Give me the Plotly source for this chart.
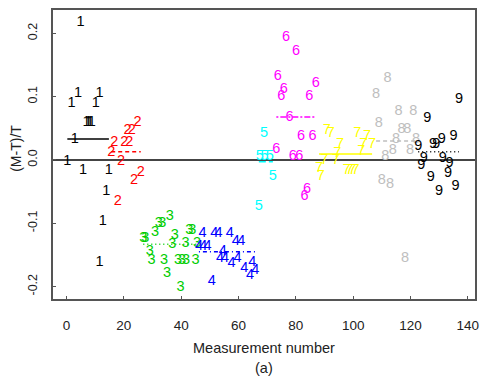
import plotly.graph_objects as go

# ---- data ----
labels = ["1", "2", "3", "4", "5", "6", "7", "8", "9"]
colors = ["#000000", "#FF0000", "#00CD00", "#0000FF", "#00FFFF",
          "#FF00FF", "#FFFF00", "#BEBEBE", "#000000"]
line_dashes = ["solid", "4px,3px", "1px,3px", "1px,3px,4px,3px", "7px,3px",
               "2px,2px,6px,2px", "solid", "4px,3px", "1px,3px"]

x1 = [0.3, 1.8, 2.9, 4.0, 4.9, 5.8, 7.0, 7.6, 8.2, 8.8, 10.2, 11.5, 11.5, 12.7, 13.9, 14.8]
y1 = [-0.003, 0.090, 0.032, 0.105, 0.217, -0.016, 0.059, 0.059, 0.059, 0.059, 0.090, 0.105, -0.161, -0.097, -0.050, -0.016]

x2 = [15.6, 16.7, 17.9, 19.0, 20.2, 21.3, 21.9, 22.8, 23.6, 24.8, 25.9]
y2 = [0.012, 0.028, -0.066, -0.002, 0.027, 0.046, 0.027, 0.046, -0.033, 0.059, -0.019]

x3 = [26.8, 27.5, 29.1, 29.7, 30.9, 32.2, 33.4, 34.0, 35.1, 36.0, 36.9, 37.8, 38.9, 39.8, 40.3, 41.5, 41.7, 42.8, 43.9, 45.0, 45.5]
y3 = [-0.124, -0.124, -0.145, -0.158, -0.115, -0.100, -0.100, -0.158, -0.179, -0.089, -0.133, -0.119, -0.158, -0.202, -0.158, -0.132, -0.158, -0.111, -0.111, -0.158, -0.132]

x4 = [46.2, 47.5, 47.7, 49.2, 50.7, 51.6, 53.0, 53.6, 54.5, 55.3, 57.0, 57.6, 59.1, 59.7, 61.0, 62.0, 64.0, 64.8, 65.9]
y4 = [-0.137, -0.116, -0.137, -0.137, -0.192, -0.116, -0.116, -0.155, -0.145, -0.155, -0.116, -0.163, -0.129, -0.155, -0.129, -0.171, -0.182, -0.161, -0.174]

x5 = [67.1, 67.4, 68.9, 69.1, 70.9, 72.0]
y5 = [-0.074, 0.005, 0.042, 0.005, 0.005, -0.026]

x6 = [73.2, 73.7, 74.9, 75.8, 76.6, 77.8, 78.9, 80.1, 81.2, 81.8, 83.0, 83.9, 84.7, 85.8, 87.0]
y6 = [0.016, 0.132, 0.100, 0.112, 0.194, 0.068, 0.006, 0.171, 0.006, 0.037, -0.057, -0.046, 0.100, 0.037, 0.121]

x7 = [88.1, 88.7, 89.9, 90.8, 92.2, 93.9, 94.5, 95.4, 97.7, 98.7, 99.7, 100.8, 101.4, 102.8, 103.5, 104.8, 106.6]
y7 = [-0.013, -0.026, 0.0, 0.047, 0.042, 0.0, 0.011, 0.024, -0.016, -0.016, -0.016, -0.016, 0.042, 0.013, 0.024, 0.037, 0.024]

x8 = [108.0, 108.9, 110.0, 111.2, 112.0, 112.9, 113.8, 115.0, 115.8, 116.9, 118.1, 118.9, 119.8, 121.0, 121.9]
y8 = [0.103, 0.058, -0.032, 0.005, 0.129, -0.039, 0.015, 0.033, 0.076, 0.048, -0.155, 0.048, 0.015, 0.076, 0.033]

x9 = [122.7, 123.8, 124.6, 125.9, 127.1, 127.9, 129.0, 130.0, 130.9, 131.3, 133.1, 133.6, 135.0, 135.7, 136.9]
y9 = [0.022, -0.008, 0.003, 0.066, -0.027, 0.024, 0.024, -0.050, 0.032, 0.003, -0.021, -0.005, 0.038, -0.041, 0.095]

group_means = [0.033, 0.013, -0.133, -0.145, -0.003, 0.068, 0.0095, 0.030, 0.013]

x_ticks = [0, 20, 40, 60, 80, 100, 120, 140]
y_ticks = [-0.2, -0.1, 0.0, 0.1, 0.2]
y_tick_text = ["-0.2", "-0.1", "0.0", "0.1", "0.2"]

xs = [x1, x2, x3, x4, x5, x6, x7, x8, x9]
ys = [y1, y2, y3, y4, y5, y6, y7, y8, y9]

NARROW = "Liberation Sans Narrow, Arial Narrow, Liberation Sans, Arial, sans-serif"
REG = "Liberation Sans, Arial, sans-serif"

fig = go.Figure()

# group mean lines
for i in range(9):
    fig.add_trace(go.Scatter(
        x=[min(xs[i]), max(xs[i])], y=[group_means[i], group_means[i]],
        mode="lines", line=dict(color=colors[i], width=1.5, dash=line_dashes[i]),
        hoverinfo="skip", showlegend=False))

# digit labels
for i in range(9):
    fig.add_trace(go.Scatter(
        x=xs[i], y=ys[i], mode="text", text=[labels[i]] * len(xs[i]),
        textposition="middle center",
        textfont=dict(family=NARROW, size=14.5, color=colors[i]),
        showlegend=False))

axis_col = "#555555"
fig.update_layout(
    width=481, height=383,
    margin=dict(l=53, r=2, t=10, b=84),
    paper_bgcolor="white", plot_bgcolor="white",
    showlegend=False,
    xaxis=dict(range=[-4.7, 142.5], tickvals=x_ticks, ticks="inside", ticklen=3,
               tickcolor=axis_col, showgrid=False, zeroline=False,
               showline=True, mirror=True, linecolor=axis_col, linewidth=1.5,
               tickfont=dict(family=NARROW, size=13.5, color="#222222"),
               ticklabelstandoff=13, ticklabeloverflow="allow"),
    yaxis=dict(range=[-0.2196, 0.2368], tickvals=y_ticks, ticktext=y_tick_text,
               ticks="inside", ticklen=3, tickcolor=axis_col, showgrid=False,
               zeroline=True, zerolinecolor="#444444", zerolinewidth=1.8,
               showline=True, mirror=True, linecolor=axis_col, linewidth=1.5,
               tickangle=-90,
               tickfont=dict(family=REG, size=12.5, color="#222222"),
               ticklabelstandoff=9, ticklabeloverflow="allow"),
    annotations=[
        dict(text="Measurement number", xref="paper", yref="paper",
             x=0.5, y=-0.1696, xanchor="center", yanchor="middle", showarrow=False,
             font=dict(family=NARROW, size=14.5, color="#222222")),
        dict(text="(a)", xref="paper", yref="paper",
             x=0.5, y=-0.2388, xanchor="center", yanchor="middle", showarrow=False,
             font=dict(family=NARROW, size=14.5, color="#222222")),
        dict(text="(M-T)/T", xref="paper", yref="paper", textangle=-90,
             x=-0.0869, y=0.5208, xanchor="center", yanchor="middle", showarrow=False,
             font=dict(family=REG, size=14, color="#222222")),
    ],
)

fig.write_html("out.html")
